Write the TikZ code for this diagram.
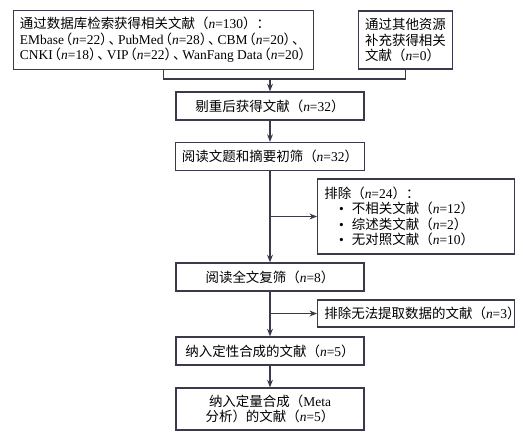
\documentclass[tikz,border=0pt]{standalone}
\usepackage{fontspec}
\setmainfont{Liberation Serif}
\newfontfamily\cjk{Noto Sans CJK SC}
\usetikzlibrary{arrows.meta,positioning}
\definecolor{ink}{HTML}{3A3A4A}
\newcommand{\nval}[1]{{\rmfamily\textit{n}=#1}}
\newcommand{\lat}[1]{{\rmfamily #1}}
\newcommand{\blt}{\hspace*{1.1em}\lat{\textbullet}\hspace*{0.6em}}
\newcommand{\lp}{\makebox[0.62em][r]{（}}
\newcommand{\rp}{\makebox[0.62em][l]{）}}
\newcommand{\dun}{\makebox[0.7em][l]{、}}

\begin{document}
\begin{tikzpicture}[
  font=\fontsize{11.5}{13.3}\cjk,
  box/.style={draw=ink,line width=1pt,fill=white,minimum height=0.84cm,inner sep=0.2cm,align=center},
  main/.style={box,minimum width=5.64cm},
  excl/.style={box,align=left,text width=5.5cm,minimum height=0.81cm},
  ln/.style={draw=ink,line width=1pt},
  ar/.style={-{Stealth[length=6.5pt,width=5pt]},draw=ink,line width=1pt}
]
\useasboundingbox (0,0) rectangle (15.93,-13.17);

\node[box,align=left,minimum width=8.91cm,minimum height=1.74cm] (db) at (4.905,-1.2)
  {通过数据库检索获得相关文献（\nval{130}）：\\
   \lat{EMbase}\lp\nval{22}\rp\dun\lat{PubMed}\lp\nval{28}\rp\dun\lat{CBM}\lp\nval{20}\rp\dun\\
   \lat{CNKI}\lp\nval{18}\rp\dun\lat{VIP}\lp\nval{22}\rp\dun\lat{WanFang Data}\lp\nval{20}\rp};
\node[box,align=left,minimum width=2.79cm,minimum height=1.74cm] (other) at (12.165,-1.2)
  {通过其他资源\\补充获得相关\\文献（\nval{0}）};

\node[main] (dedup)  at (8.1,-3.18)  {剔重后获得文献（\nval{32}）};
\node[main] (title)  at (8.1,-4.695) {阅读文题和摘要初筛（\nval{32}）};
\node[excl,minimum height=2.25cm] (ex1) at (12.48,-6.495)
  {排除（\nval{24}）：\\
   \blt 不相关文献（\nval{12}）\\
   \blt 综述类文献（\nval{2}）\\
   \blt 无对照文献（\nval{10}）};
\node[main] (full)   at (8.1,-8.31)  {阅读全文复筛（\nval{8}）};
\node[excl] (ex2)    at (12.48,-9.405) {排除无法提取数据的文献（\nval{3}）};
\node[main] (qual)   at (8.1,-10.53) {纳入定性合成的文献（\nval{5}）};
\node[main,minimum height=1.26cm] (quant) at (8.1,-12.27)
  {纳入定量合成（\lat{Meta}\\分析）的文献（\nval{5}）};

\coordinate (merge) at (8.1,-2.37);
\draw[ln] (db.south) |- (other.south |- merge) -- (other.south);
\draw[ar] (merge) -- (dedup.north);
\draw[ar] (dedup) -- (title);
\draw[ar] (title) -- (full);
\draw[ar] (title.south |- ex1.west) -- (ex1.west);
\draw[ar] (full) -- (qual);
\draw[ar] (full.south |- ex2.west) -- (ex2.west);
\draw[ar] (qual) -- (quant);
\end{tikzpicture}
\end{document}
